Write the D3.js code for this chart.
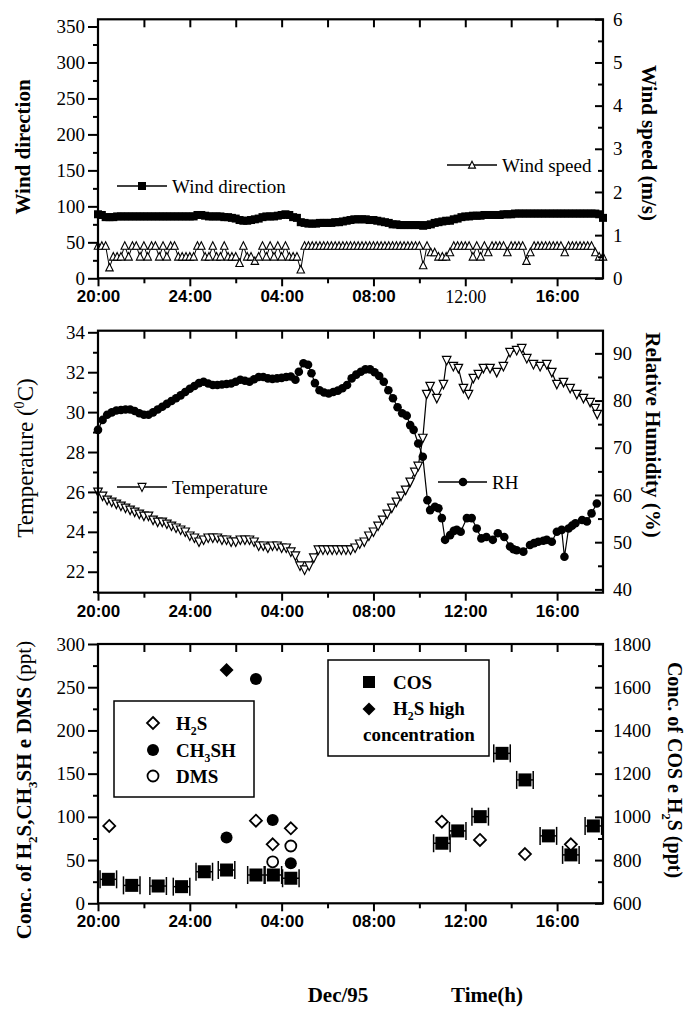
<!DOCTYPE html>
<html>
<head>
<meta charset="utf-8">
<script src="https://cdn.jsdelivr.net/npm/d3@7"></script>
<style>
  body { margin: 0; background: #fff; }
  svg text { font-family: "Liberation Serif", "Times New Roman", serif; fill: #000; }
  .num text { font-size: 19px; }
  .hours text { font-family: "Liberation Sans", Arial, sans-serif; font-weight: bold; font-size: 17px; }
  .tick line { stroke: #000; stroke-width: 2; }
</style>
</head>
<body>
<svg id="chart" width="686" height="1009"></svg>
<script>
// hours counted from 20:00 of the first day
const hourTicks = [0, 4, 8, 12, 16, 20];
const hourLabels = ["20:00", "24:00", "04:00", "08:00", "12:00", "16:00"];
const hourMinor = [2, 6, 10, 14, 18];
const hourTop = [2, 4, 6, 8, 10, 12, 14, 16, 18, 20];

// top panel: one reading every 10 minutes
const sampleStep = 1 / 6;
const windDirection = [
  89, 88,
  85, 85, 85, 86, 86, 86, 86, 86, 86, 86, 86, 86, 86, 86, 86, 86, 86, 86, 86, 86, 86, 86, 86, 86,
  88, 88, 87,
  86, 86, 86, 86, 85, 85, 84, 83,
  81, 80, 80, 81, 82, 83,
  85, 86, 86, 86, 87, 88,
  89, 88, 85, 84,
  78, 77, 76, 76, 76, 77, 77, 77, 77, 78, 78, 79,
  80, 81, 82, 82, 82, 82, 81, 81, 80, 79, 78, 77,
  75, 75, 74, 74, 74, 74, 74, 74, 73, 74, 75,
  77, 78, 79, 80, 80, 82, 83, 85,
  86, 86, 87, 87, 87, 88, 88, 88, 88, 88, 89, 89, 89,
  90, 90, 90, 90, 90, 90, 90, 90, 90, 90, 90, 90, 90, 90, 90, 90, 90, 90, 90, 90, 90, 90,
  89, 84
];
const windSpeed = [
  0.75, 0.75, 0.75, 0.25, 0.5, 0.5, 0.5,
  0.75, 0.5, 0.75, 0.75, 0.5, 0.75, 0.5, 0.75, 0.75, 0.5, 0.75, 0.5, 0.75, 0.75,
  0.5, 0.5, 0.5, 0.5, 0.5, 0.75, 0.75, 0.5,
  0.5, 0.75, 0.5, 0.5, 0.75, 0.5, 0.5, 0.5, 0.35, 0.75, 0.5, 0.5, 0.4, 0.5, 0.75, 0.5,
  0.75, 0.5, 0.75, 0.5, 0.75, 0.5, 0.5, 0.5, 0.2,
  0.75, 0.75, 0.75, 0.75, 0.75, 0.75, 0.75, 0.75, 0.75, 0.75, 0.75, 0.75, 0.75, 0.75, 0.75, 0.75,
  0.75, 0.75, 0.75, 0.75, 0.75, 0.75, 0.75, 0.75, 0.75, 0.75, 0.75, 0.75, 0.75, 0.75, 0.75,
  0.3, 0.75, 0.6, 0.6, 0.5, 0.5, 0.5, 0.6,
  0.75, 0.75, 0.75, 0.75, 0.75, 0.5, 0.75, 0.5, 0.75, 0.6, 0.75, 0.75, 0.75, 0.75, 0.6, 0.75,
  0.75, 0.75, 0.75, 0.4, 0.6, 0.75, 0.75, 0.75, 0.75, 0.75, 0.75, 0.75, 0.75, 0.6, 0.75, 0.75,
  0.75, 0.75, 0.75, 0.75, 0.75, 0.6, 0.5, 0.5
];

// middle panel: [hour, value]
const temperature = [
  [0, 26.0], [0.2, 25.8], [0.4, 25.6], [0.6, 25.5], [0.8, 25.4], [1.0, 25.3], [1.2, 25.2], [1.4, 25.1],
  [1.6, 25.0], [1.8, 24.9], [2.0, 24.8], [2.2, 24.8], [2.4, 24.6], [2.6, 24.5], [2.8, 24.5], [3.0, 24.4],
  [3.2, 24.3], [3.4, 24.2], [3.6, 24.1], [3.8, 24.0], [4.0, 23.8], [4.2, 23.7], [4.4, 23.5], [4.6, 23.6],
  [4.8, 23.7], [5.0, 23.7], [5.2, 23.7], [5.4, 23.6], [5.6, 23.6], [5.8, 23.5], [6.0, 23.5], [6.2, 23.6],
  [6.4, 23.6], [6.6, 23.6], [6.8, 23.5], [7.0, 23.3], [7.2, 23.3], [7.4, 23.2], [7.6, 23.3], [7.8, 23.3],
  [8.0, 23.2], [8.2, 23.2], [8.4, 23.0], [8.6, 22.8], [8.8, 22.3], [9.0, 22.1], [9.2, 22.3], [9.4, 22.7],
  [9.6, 23.1], [9.8, 23.1], [10.0, 23.1], [10.2, 23.1], [10.4, 23.1], [10.6, 23.1], [10.8, 23.1], [11.0, 23.1],
  [11.2, 23.2], [11.4, 23.4], [11.6, 23.5], [11.8, 23.8], [12.0, 24.0], [12.2, 24.3], [12.4, 24.6], [12.6, 24.9],
  [12.8, 25.2], [13.0, 25.5], [13.2, 25.8], [13.4, 26.1], [13.6, 26.5], [13.8, 27.0], [13.95, 27.3], [14.15, 28.7],
  [14.32, 30.9], [14.47, 31.3], [14.76, 30.7], [15.05, 31.4], [15.19, 32.6], [15.48, 32.3], [15.7, 32.2], [15.92, 31.2],
  [16.14, 30.9], [16.35, 31.7], [16.57, 31.9], [16.79, 32.2], [17.08, 32.2], [17.37, 32.0], [17.66, 32.3], [17.95, 33.0],
  [18.24, 33.1], [18.46, 33.2], [18.68, 32.7], [18.97, 32.4], [19.26, 32.3], [19.55, 32.4], [19.77, 32.0], [19.99, 31.4],
  [20.28, 31.5], [20.57, 31.2], [20.86, 30.9], [21.15, 30.7], [21.44, 30.5], [21.66, 30.2], [21.75, 29.9]
];
const humidity = [
  [0, 73.8], [0.2, 75.9], [0.4, 77.0], [0.6, 77.5], [0.8, 77.9], [1.0, 78.0], [1.2, 78.1], [1.4, 78.1],
  [1.6, 77.8], [1.8, 77.3], [2.0, 77.0], [2.2, 77.0], [2.4, 77.5], [2.6, 78.1], [2.8, 78.7], [3.0, 79.3],
  [3.2, 79.9], [3.4, 80.5], [3.6, 81.1], [3.8, 81.8], [4.0, 82.5], [4.2, 83.1], [4.4, 83.7], [4.6, 84.0],
  [4.8, 83.6], [5.0, 83.3], [5.2, 83.3], [5.4, 83.4], [5.6, 83.5], [5.8, 83.6], [6.0, 84.0], [6.2, 84.4],
  [6.4, 84.2], [6.6, 84.0], [6.8, 84.5], [7.0, 85.0], [7.2, 85.0], [7.4, 84.7], [7.6, 84.6], [7.8, 84.7],
  [8.0, 84.8], [8.2, 85.0], [8.4, 85.1], [8.6, 84.4], [8.75, 86.1], [8.95, 87.9], [9.15, 87.6], [9.3, 85.8],
  [9.45, 83.7], [9.65, 82.2], [9.85, 81.7], [10.05, 81.5], [10.25, 81.8], [10.45, 82.1], [10.65, 82.6], [10.85, 83.3],
  [11.05, 84.7], [11.25, 85.5], [11.45, 86.1], [11.65, 86.6], [11.85, 86.6], [12.05, 86.0], [12.25, 85.2], [12.45, 84.0],
  [12.65, 82.2], [12.85, 80.5], [13.05, 78.6], [13.25, 77.3], [13.45, 76.8], [13.6, 74.8], [13.75, 73.8], [13.95, 70.9],
  [14.15, 68.1], [14.35, 58.9], [14.47, 56.8], [14.68, 57.5], [14.83, 57.2], [14.98, 55.1], [15.12, 50.5], [15.34, 51.5],
  [15.5, 52.4], [15.63, 52.6], [15.8, 52.2], [16.07, 55.1], [16.28, 55.1], [16.5, 52.9], [16.7, 50.8], [16.92, 51.1],
  [17.2, 50.5], [17.42, 51.9], [17.7, 51.1], [17.95, 49.1], [18.1, 48.5], [18.24, 48.3], [18.53, 48.0], [18.82, 49.4],
  [19.0, 49.8], [19.18, 50.1], [19.4, 50.3], [19.55, 50.5], [19.77, 50.1], [19.99, 52.2], [20.2, 52.6], [20.32, 46.9],
  [20.5, 52.9], [20.65, 53.5], [20.8, 54.0], [21.09, 54.7], [21.3, 54.4], [21.5, 56.1], [21.73, 58.2]
];

// bottom panel
const cosHours = [0.45, 1.47, 2.62, 3.64, 4.63, 5.6, 6.88, 7.64, 8.4, 14.98, 15.67, 16.65, 17.6, 18.6, 19.62, 20.6, 21.58];
const cosValues = [711, 683, 680, 677, 746, 754, 731, 731, 716, 878, 935, 1001, 1294, 1171, 912, 824, 958];
const cosHalfWidth = 0.36;
const h2sHours = [0.49, 6.88, 7.61, 8.4, 14.98, 16.64, 18.6, 20.6];
const h2sValues = [89.5, 95.6, 68.3, 86.8, 94.4, 73.3, 57, 68.3];
const h2sHighHours = [5.6];
const h2sHighValues = [270];
const ch3shHours = [5.6, 6.88, 7.61, 8.4];
const ch3shValues = [76, 259.6, 96.4, 46.3];
const dmsHours = [7.61, 8.4];
const dmsValues = [48, 66.3];

const plotLeft = 98;
const plotRight = 603;
const svg = d3.select("#chart");
const x = d3.scaleLinear().domain([0, 22]).range([plotLeft, plotRight]);

function triUp(s) {
  return `M0,${-s * 0.55}L${s / 2},${s * 0.45}L${-s / 2},${s * 0.45}Z`;
}
function triDown(s) {
  return `M0,${s * 0.55}L${s / 2},${-s * 0.45}L${-s / 2},${-s * 0.45}Z`;
}
function diamond(r) {
  return `M0,${-r}L${r},0L0,${r}L${-r},0Z`;
}

function createPanel(top, bottom, leftDomain, rightDomain) {
  const g = svg.append("g");
  const yl = d3.scaleLinear().domain(leftDomain).range([bottom, top]);
  const yr = d3.scaleLinear().domain(rightDomain).range([bottom, top]);
  return { g, yl, yr, top, bottom };
}

function drawAxes(p, o) {
  const { g, yl, yr, top, bottom } = p;
  // left axis, ticks outward
  g.append("g")
    .attr("transform", `translate(${plotLeft},0)`)
    .call(d3.axisLeft(yl).tickValues(o.leftMinor).tickSize(5).tickFormat(""));
  g.append("g")
    .attr("class", "num")
    .attr("transform", `translate(${plotLeft},0)`)
    .call(d3.axisLeft(yl).tickValues(o.leftMajor).tickSize(10).tickPadding(3).tickFormat(d3.format("d")));
  // right axis, ticks inward
  g.append("g")
    .attr("transform", `translate(${plotRight},0)`)
    .call(d3.axisRight(yr).tickValues(o.rightMinor).tickSize(-5).tickFormat(""));
  g.append("g")
    .attr("class", "num")
    .attr("transform", `translate(${plotRight},0)`)
    .call(d3.axisRight(yr).tickValues(o.rightMajor).tickSizeInner(-8).tickSizeOuter(0).tickPadding(10)
      .tickFormat(d3.format("d")));
  // bottom axis
  g.append("g")
    .attr("transform", `translate(0,${bottom})`)
    .call(d3.axisBottom(x).tickValues(hourMinor).tickSize(5).tickFormat(""));
  const xa = g.append("g")
    .attr("class", "hours")
    .attr("transform", `translate(0,${bottom})`)
    .call(d3.axisBottom(x).tickValues(hourTicks).tickSize(8).tickPadding(4)
      .tickFormat((d, i) => hourLabels[i]));
  if (o.serifNoon) {
    // the "12:00" label of the top panel is set in a plain serif face
    xa.selectAll("text")
      .filter((d) => d === 16)
      .style("font-family", "'Liberation Serif', serif")
      .style("font-weight", "normal")
      .style("font-size", "18px");
  }
  // top ticks, inward
  g.append("g")
    .attr("transform", `translate(0,${top})`)
    .call(d3.axisTop(x).tickValues(hourTop).tickSize(-8).tickFormat(""));
  g.selectAll(".domain").remove();
  g.append("rect")
    .attr("x", plotLeft)
    .attr("y", top)
    .attr("width", plotRight - plotLeft)
    .attr("height", bottom - top)
    .attr("fill", "none")
    .attr("stroke", "#000")
    .attr("stroke-width", 2.2);
}

function axisTitle(cx, cy, angle, size, parts, weight) {
  const t = svg.append("text")
    .attr("transform", `translate(${cx},${cy}) rotate(${angle})`)
    .attr("text-anchor", "middle")
    .style("font-size", size + "px")
    .style("font-weight", weight || "bold");
  let shift = 0;
  parts.forEach((part) => {
    const span = t.append("tspan").text(part.text);
    let target = 0;
    if (part.sub) target = size * 0.3;
    if (part.sup) target = -size * 0.4;
    if (target !== shift) {
      span.attr("dy", target - shift);
      shift = target;
    }
    if (part.sub || part.sup) span.style("font-size", size * 0.62 + "px");
    if (part.weight) span.style("font-weight", part.weight);
  });
  return t;
}

function legendText(x0, y0, parts, size, weight) {
  const t = svg.append("text")
    .attr("x", x0)
    .attr("y", y0)
    .attr("dy", "0.35em")
    .style("font-size", size + "px")
    .style("font-weight", weight || "normal");
  let shift = 0;
  parts.forEach((part) => {
    const span = t.append("tspan").text(part.text);
    const target = part.sub ? size * 0.3 : 0;
    if (target !== shift) {
      span.attr("dy", target - shift);
      shift = target;
    }
    if (part.sub) span.style("font-size", size * 0.62 + "px");
  });
}

// ---------- top panel: wind ----------
const wind = createPanel(19.3, 278.3, [0, 360], [0, 6]);
const windDirPts = windDirection.map((v, i) => [i * sampleStep, v]);
const windSpdPts = windSpeed.map((v, i) => [i * sampleStep, v]);

wind.g.append("path")
  .datum(windSpdPts)
  .attr("fill", "none")
  .attr("stroke", "#000")
  .attr("stroke-width", 1)
  .attr("d", d3.line().x((d) => x(d[0])).y((d) => wind.yr(d[1])));
wind.g.selectAll(".ws")
  .data(windSpdPts)
  .join("path")
  .attr("class", "ws")
  .attr("transform", (d) => `translate(${x(d[0])},${wind.yr(d[1])})`)
  .attr("d", triUp(7.5))
  .attr("fill", "#fff")
  .attr("stroke", "#000")
  .attr("stroke-width", 1.1);

wind.g.append("path")
  .datum(windDirPts)
  .attr("fill", "none")
  .attr("stroke", "#000")
  .attr("stroke-width", 1.5)
  .attr("d", d3.line().x((d) => x(d[0])).y((d) => wind.yl(d[1])));
wind.g.selectAll(".wd")
  .data(windDirPts)
  .join("rect")
  .attr("class", "wd")
  .attr("x", (d) => x(d[0]) - 4)
  .attr("y", (d) => wind.yl(d[1]) - 4)
  .attr("width", 8)
  .attr("height", 8)
  .attr("fill", "#000");

drawAxes(wind, {
  leftMajor: d3.range(0, 351, 50),
  leftMinor: d3.range(25, 351, 50),
  rightMajor: [0, 1, 2, 3, 4, 5, 6],
  rightMinor: [0.5, 1.5, 2.5, 3.5, 4.5, 5.5],
  serifNoon: true,
});

// legends
svg.append("line").attr("x1", 117).attr("x2", 167).attr("y1", 186).attr("y2", 186)
  .attr("stroke", "#000").attr("stroke-width", 1.5);
svg.append("rect").attr("x", 138).attr("y", 182).attr("width", 8).attr("height", 8).attr("fill", "#000");
legendText(172, 186, [{ text: "Wind direction" }], 19);

svg.append("line").attr("x1", 447).attr("x2", 497).attr("y1", 165).attr("y2", 165)
  .attr("stroke", "#000").attr("stroke-width", 1.5);
svg.append("path").attr("transform", "translate(472,165)").attr("d", triUp(7))
  .attr("fill", "#fff").attr("stroke", "#000").attr("stroke-width", 1.1);
legendText(502, 165, [{ text: "Wind speed" }], 19);

axisTitle(30, 147, -90, 21, [{ text: "Wind direction" }]);
axisTitle(642, 143, 90, 21, [{ text: "Wind speed (m/s)" }]);

// ---------- middle panel: temperature and RH ----------
const met = createPanel(330.7, 592.7, [20.95, 34.08], [39.3, 94.8]);

met.g.append("path")
  .datum(temperature)
  .attr("fill", "none")
  .attr("stroke", "#000")
  .attr("stroke-width", 1.2)
  .attr("d", d3.line().x((d) => x(d[0])).y((d) => met.yl(d[1])));
met.g.selectAll(".tp")
  .data(temperature)
  .join("path")
  .attr("class", "tp")
  .attr("transform", (d) => `translate(${x(d[0])},${met.yl(d[1])})`)
  .attr("d", triDown(8.5))
  .attr("fill", "#fff")
  .attr("stroke", "#000")
  .attr("stroke-width", 1.2);

met.g.append("path")
  .datum(humidity)
  .attr("fill", "none")
  .attr("stroke", "#000")
  .attr("stroke-width", 1.2)
  .attr("d", d3.line().x((d) => x(d[0])).y((d) => met.yr(d[1])));
met.g.selectAll(".rh")
  .data(humidity)
  .join("circle")
  .attr("class", "rh")
  .attr("cx", (d) => x(d[0]))
  .attr("cy", (d) => met.yr(d[1]))
  .attr("r", 4.3)
  .attr("fill", "#000");

drawAxes(met, {
  leftMajor: d3.range(22, 35, 2),
  leftMinor: d3.range(21, 34, 2),
  rightMajor: d3.range(40, 91, 10),
  rightMinor: d3.range(45, 90, 10),
});

svg.append("line").attr("x1", 117).attr("x2", 167).attr("y1", 487).attr("y2", 487)
  .attr("stroke", "#000").attr("stroke-width", 1.5);
svg.append("path").attr("transform", "translate(142,487)").attr("d", triDown(8))
  .attr("fill", "#fff").attr("stroke", "#000").attr("stroke-width", 1.1);
legendText(172, 487, [{ text: "Temperature" }], 19);

svg.append("line").attr("x1", 438).attr("x2", 487).attr("y1", 482).attr("y2", 482)
  .attr("stroke", "#000").attr("stroke-width", 1.5);
svg.append("circle").attr("cx", 463).attr("cy", 482).attr("r", 4.3).attr("fill", "#000");
legendText(492, 482, [{ text: "RH" }], 19);

axisTitle(33, 458, -90, 23, [
  { text: "Temperature (" },
  { text: "0", sup: true },
  { text: "C)" },
], "normal");
axisTitle(646, 435, 90, 21, [{ text: "Relative Humidity (%)" }]);

// ---------- bottom panel: sulfur compounds ----------
const conc = createPanel(644, 903.3, [0, 300], [600, 1800]);

const cosG = conc.g.selectAll(".cos")
  .data(cosHours.map((h, i) => [h, cosValues[i]]))
  .join("g")
  .attr("class", "cos")
  .attr("transform", (d) => `translate(${x(d[0])},${conc.yr(d[1])})`);
const barHalf = x(cosHalfWidth) - x(0);
cosG.append("line").attr("x1", -barHalf).attr("x2", barHalf)
  .attr("stroke", "#000").attr("stroke-width", 1.5);
cosG.append("line").attr("x1", -barHalf).attr("x2", -barHalf).attr("y1", -9).attr("y2", 9)
  .attr("stroke", "#000").attr("stroke-width", 1.5);
cosG.append("line").attr("x1", barHalf).attr("x2", barHalf).attr("y1", -9).attr("y2", 9)
  .attr("stroke", "#000").attr("stroke-width", 1.5);
cosG.append("rect").attr("x", -6.5).attr("y", -6.5).attr("width", 13).attr("height", 13).attr("fill", "#000");

conc.g.selectAll(".ch3sh")
  .data(ch3shHours.map((h, i) => [h, ch3shValues[i]]))
  .join("circle")
  .attr("class", "ch3sh")
  .attr("cx", (d) => x(d[0]))
  .attr("cy", (d) => conc.yl(d[1]))
  .attr("r", 6)
  .attr("fill", "#000");

conc.g.selectAll(".dms")
  .data(dmsHours.map((h, i) => [h, dmsValues[i]]))
  .join("circle")
  .attr("class", "dms")
  .attr("cx", (d) => x(d[0]))
  .attr("cy", (d) => conc.yl(d[1]))
  .attr("r", 5.5)
  .attr("fill", "#fff")
  .attr("stroke", "#000")
  .attr("stroke-width", 1.8);

conc.g.selectAll(".h2s")
  .data(h2sHours.map((h, i) => [h, h2sValues[i]]))
  .join("path")
  .attr("class", "h2s")
  .attr("transform", (d) => `translate(${x(d[0])},${conc.yl(d[1])})`)
  .attr("d", diamond(6))
  .attr("fill", "#fff")
  .attr("stroke", "#000")
  .attr("stroke-width", 1.8);

conc.g.selectAll(".h2shigh")
  .data(h2sHighHours.map((h, i) => [h, h2sHighValues[i]]))
  .join("path")
  .attr("class", "h2shigh")
  .attr("transform", (d) => `translate(${x(d[0])},${conc.yl(d[1])})`)
  .attr("d", diamond(7))
  .attr("fill", "#000");

drawAxes(conc, {
  leftMajor: d3.range(0, 301, 50),
  leftMinor: d3.range(25, 300, 50),
  rightMajor: d3.range(600, 1801, 200),
  rightMinor: d3.range(700, 1800, 200),
});

// legend boxes
svg.append("rect").attr("x", 114).attr("y", 701).attr("width", 140).attr("height", 96)
  .attr("fill", "#fff").attr("stroke", "#000").attr("stroke-width", 1.5);
svg.append("path").attr("transform", "translate(153,723)").attr("d", diamond(6))
  .attr("fill", "#fff").attr("stroke", "#000").attr("stroke-width", 1.8);
legendText(176, 723, [{ text: "H" }, { text: "2", sub: true }, { text: "S" }], 19, "bold");
svg.append("circle").attr("cx", 153).attr("cy", 750).attr("r", 6).attr("fill", "#000");
legendText(176, 750, [{ text: "CH" }, { text: "3", sub: true }, { text: "SH" }], 19, "bold");
svg.append("circle").attr("cx", 153).attr("cy", 776).attr("r", 5.5)
  .attr("fill", "#fff").attr("stroke", "#000").attr("stroke-width", 1.8);
legendText(176, 776, [{ text: "DMS" }], 19, "bold");

svg.append("rect").attr("x", 328).attr("y", 660).attr("width", 161).attr("height", 96)
  .attr("fill", "#fff").attr("stroke", "#000").attr("stroke-width", 1.5);
svg.append("rect").attr("x", 363).attr("y", 676).attr("width", 12).attr("height", 12).attr("fill", "#000");
legendText(393, 682, [{ text: "COS" }], 19, "bold");
svg.append("path").attr("transform", "translate(369,709)").attr("d", diamond(6.5)).attr("fill", "#000");
legendText(393, 708, [{ text: "H" }, { text: "2", sub: true }, { text: "S high" }], 19, "bold");
legendText(363, 734, [{ text: "concentration" }], 19, "bold");

axisTitle(31, 790, -90, 21, [
  { text: "Conc. of H" },
  { text: "2", sub: true },
  { text: "S,CH" },
  { text: "3", sub: true },
  { text: "SH e DMS " },
  { text: "(ppt)", weight: "normal" },
]);
axisTitle(668, 770, 90, 20, [
  { text: "Conc. of COS e H" },
  { text: "2", sub: true },
  { text: "S (ppt)" },
]);

// footer
svg.append("text").attr("x", 338).attr("y", 1002).attr("text-anchor", "middle")
  .style("font-size", "21px").style("font-weight", "bold").text("Dec/95");
svg.append("text").attr("x", 487).attr("y", 1002).attr("text-anchor", "middle")
  .style("font-size", "21px").style("font-weight", "bold").text("Time(h)");
</script>
</body>
</html>
